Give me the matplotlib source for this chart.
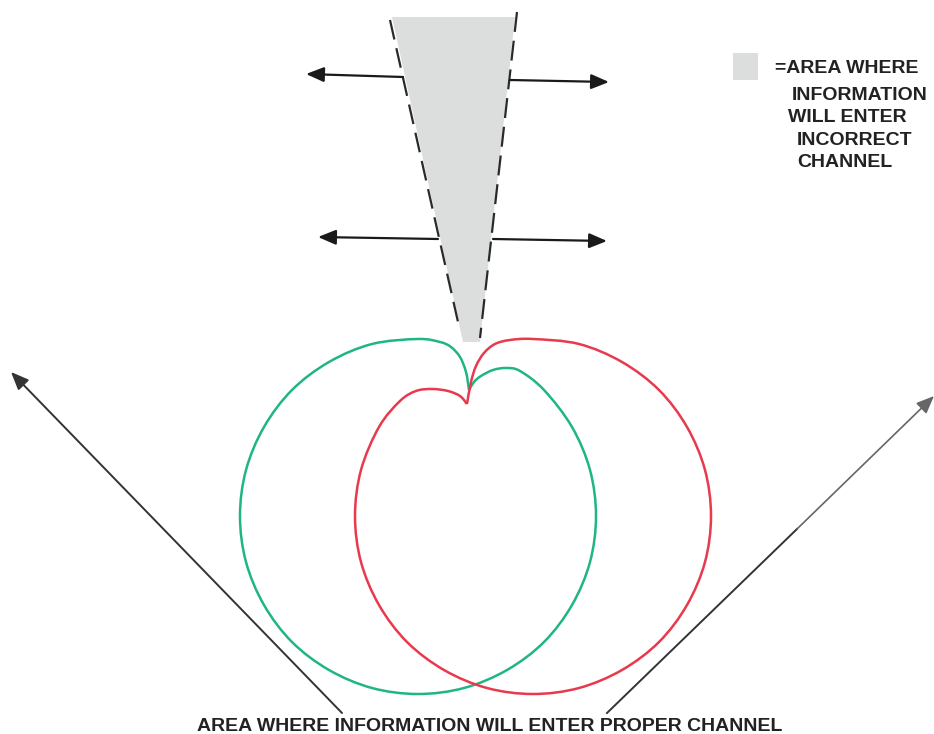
import numpy as np
import matplotlib
matplotlib.use("Agg")
import matplotlib.pyplot as plt
from matplotlib.path import Path
from matplotlib.patches import PathPatch, Polygon, Rectangle

# ---- traced data (pixel coordinates) ----
green_x = [469, 466, 460, 451, 440, 418, 372, 329, 292, 264, 246, 240, 246, 264,
           292, 329, 372, 418, 464, 507, 544, 572, 590, 596, 590, 572, 544, 520,
           506, 493, 481, 474, 469]
green_y = [390, 372, 357, 347, 342, 339, 344, 362, 390, 427, 470, 516, 562, 605,
           642, 670, 688, 694, 688, 670, 642, 605, 562, 516, 470, 427, 390, 371,
           368, 370, 376, 382, 390]

red_x = [467, 460, 448, 432, 416, 400, 379, 361, 355, 361, 379, 407, 444, 487,
         533, 579, 622, 659, 687, 705, 711, 705, 687, 659, 622, 579, 533, 510,
         495, 484, 476, 471, 467]
red_y = [404, 396, 391, 389, 391, 401, 427, 470, 516, 562, 605, 642, 670, 688,
         694, 688, 670, 642, 605, 562, 516, 470, 427, 390, 362, 344, 339, 340,
         344, 353, 366, 382, 404]

wedge_x = [392, 515, 480, 463]
wedge_y = [17, 17, 342, 342]
dash_left = [(390, 20), (458, 322)]
dash_right = [(517, 12), (480, 338)]

h_arrows = [((403, 77), (306, 74)), ((510, 80), (609, 82)),
            ((438, 239), (318, 237)), ((493, 239), (607, 241))]
diag_left = ((342, 713), (11, 372))
diag_right_dark = ((607, 713), (797, 529))
diag_right_light = ((797, 529), (934, 396))

legend_lines = ["=AREA WHERE", "INFORMATION", "WILL ENTER", "INCORRECT", "CHANNEL"]
legend_x = [775, 792, 788, 797, 797]
legend_y = [73, 100, 122, 145, 167]
bottom_text = "AREA WHERE INFORMATION WILL ENTER PROPER CHANNEL"

GREEN = "#20b585"
RED = "#e8394d"
GRAY = "#dcdedd"
DARK = "#222222"


def smooth_path(xs, ys):
    pts = np.column_stack([xs, ys]).astype(float)
    n = len(pts)
    verts = [pts[0]]
    codes = [Path.MOVETO]
    for i in range(n - 1):
        p0 = pts[max(i - 1, 0)]
        p1 = pts[i]
        p2 = pts[i + 1]
        p3 = pts[min(i + 2, n - 1)]
        verts += [p1 + (p2 - p0) / 6.0, p2 - (p3 - p1) / 6.0, p2]
        codes += [Path.CURVE4] * 3
    return Path(verts, codes)


fig = plt.figure(figsize=(9.34, 7.34), dpi=100)
ax = fig.add_axes([0, 0, 1, 1])
ax.set_xlim(0, 934)
ax.set_ylim(734, 0)
ax.axis("off")

# gray wedge
ax.add_patch(Polygon(np.column_stack([wedge_x, wedge_y]), closed=True,
                     facecolor=GRAY, edgecolor="none", zorder=1))
for seg in (dash_left, dash_right):
    (x0, y0), (x1, y1) = seg
    ax.plot([x0, x1], [y0, y1], color="#2a2a2a", lw=1.6, dashes=(9, 4), zorder=2)

# horizontal arrows
for (s, e) in h_arrows:
    ax.annotate("", xy=e, xytext=s,
                arrowprops=dict(arrowstyle="-|>,head_length=0.6,head_width=0.25",
                                mutation_scale=18, color="#1a1a1a", lw=1.6,
                                shrinkA=0, shrinkB=0), zorder=3)

# diagonal arrows
ax.annotate("", xy=diag_left[1], xytext=diag_left[0],
            arrowprops=dict(arrowstyle="-|>,head_length=0.6,head_width=0.25",
                            mutation_scale=18, color="#333333", lw=1.4,
                            shrinkA=0, shrinkB=0), zorder=3)
ax.plot([diag_right_dark[0][0], diag_right_dark[1][0]],
        [diag_right_dark[0][1], diag_right_dark[1][1]], color="#333333", lw=1.4, zorder=3)
ax.annotate("", xy=diag_right_light[1], xytext=diag_right_light[0],
            arrowprops=dict(arrowstyle="-|>,head_length=0.6,head_width=0.25",
                            mutation_scale=18, color="#666666", lw=1.2,
                            shrinkA=0, shrinkB=0), zorder=3)

# polar patterns
ax.add_patch(PathPatch(smooth_path(green_x, green_y), facecolor="none",
                       edgecolor=GREEN, lw=1.8, zorder=4))
ax.add_patch(PathPatch(smooth_path(red_x, red_y), facecolor="none",
                       edgecolor=RED, lw=1.8, zorder=4))

# legend
ax.add_patch(Rectangle((733, 53), 25, 27, facecolor=GRAY, edgecolor="none", zorder=1))
for t, x, y in zip(legend_lines, legend_x, legend_y):
    ax.text(x, y, t, ha="left", va="baseline", fontsize=14, fontweight="bold",
            family="Liberation Sans", color=DARK)

ax.text(490, 731, bottom_text, ha="center", va="baseline", fontsize=14,
        fontweight="bold", family="Liberation Sans", color=DARK)

fig.savefig("out.png", dpi=100)
